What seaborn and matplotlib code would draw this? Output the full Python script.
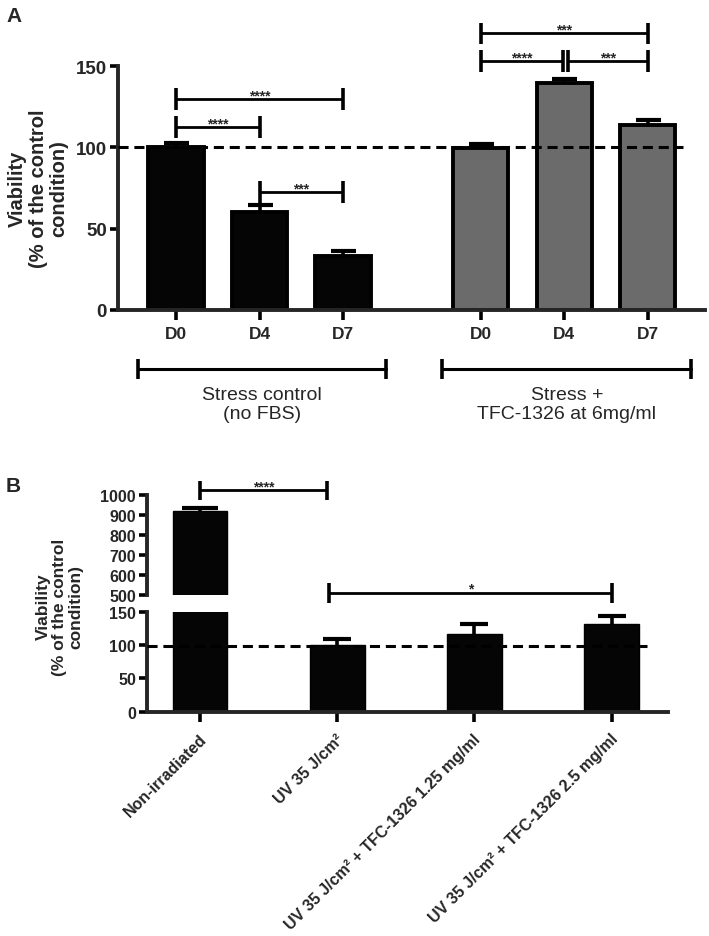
import numpy as np
import pandas as pd
import matplotlib
matplotlib.use("Agg")
import matplotlib.pyplot as plt
import matplotlib.transforms as mtransforms
import seaborn as sns

# ---------------- data ----------------
# Panel A
days = ["D0", "D4", "D7"]
groups = ["Stress control\n(no FBS)", "Stress +\nTFC-1326 at 6mg/ml"]
stress_control_mean = [100, 60, 33.5]
stress_control_sem = [2.5, 4.5, 2.8]
tfc_mean = [99.5, 139.5, 113.5]
tfc_sem = [2.5, 2.5, 3.0]
reference_A = 100
# significance: (group, day_i, day_j, label, bracket height)
sig_A = [(0, 0, 1, "****", 112.5), (0, 0, 2, "****", 129.7), (0, 1, 2, "***", 72.5),
         (1, 0, 2, "***", 170), (1, 0, 1, "****", 153), (1, 1, 2, "***", 153)]

# Panel B
b_labels = ["Non-irradiated", "UV 35 J/cm²", "UV 35 J/cm² + TFC-1326 1.25 mg/ml",
            "UV 35 J/cm² + TFC-1326 2.5 mg/ml"]
b_mean = [921, 100, 117, 131]
b_sem = [12, 9, 14, 13]
reference_B = 98

# ---------------- style ----------------
sns.set_style("ticks")
plt.rcParams["font.family"] = ["Liberation Sans", "DejaVu Sans"]
plt.rcParams["axes.linewidth"] = 2.8

W, H = 709, 937
fig = plt.figure(figsize=(W / 100, H / 100), dpi=100)


def rect(l, t, r, b):
    return [l / W, 1 - b / H, (r - l) / W, (b - t) / H]


BLACK = "#050505"
GRAY = "#6b6b6b"

# ---------------- Panel A ----------------
axA = fig.add_axes(rect(118, 67, 705, 311))
axA.patch.set_visible(False)
group_gap = 0.65
dfA = pd.DataFrame({
    "day": days * 2,
    "group": [groups[0]] * 3 + [groups[1]] * 3,
    "mean": stress_control_mean + tfc_mean,
    "sem": stress_control_sem + tfc_sem,
})
dfA["pos"] = [i + g * (len(days) + group_gap) for g in range(2) for i in range(len(days))]
sns.barplot(data=dfA, x="pos", y="mean", hue="group", palette=[BLACK, GRAY],
            native_scale=True, dodge=False, width=0.66, errorbar=None, saturation=1,
            edgecolor="black", linewidth=2.8, legend=False, ax=axA)


def up_errorbar(ax, x, y, e, capsize, clip=True):
    y = np.asarray(y, float)
    e = np.asarray(e, float)
    _, caps, bars = ax.errorbar(x, y, yerr=[np.zeros_like(e), e], fmt="none", ecolor="black",
                                elinewidth=2.6, capsize=capsize, capthick=3, zorder=1)
    for c in caps:
        if np.allclose(c.get_ydata(), y):
            c.set_visible(False)
        c.set_clip_on(clip)


up_errorbar(axA, dfA["pos"], dfA["mean"], dfA["sem"], 9)

xmin_A, xmax_A = dfA["pos"].min() - 0.695, dfA["pos"].max() + 0.685
axA.set_xlim(xmin_A, xmax_A)
axA.set_ylim(0, 150)
axA.set_yticks([0, 50, 100, 150])
axA.set_xticks(dfA["pos"])
axA.set_xticklabels(dfA["day"])
axA.set_xlabel("")
axA.set_ylabel("")
axA.hlines(reference_A, xmin_A, dfA["pos"].max() + 0.42, colors="black", lw=2.2,
           linestyles=(0, (3.3, 1.9)), zorder=5)
sns.despine(ax=axA)
axA.tick_params(axis="both", direction="out", width=2.6, color="black")
axA.tick_params(axis="x", length=7.5, pad=4, labelsize=12.5)
axA.tick_params(axis="y", length=6, pad=2, labelsize=13.5)
for lbl in axA.get_xticklabels() + axA.get_yticklabels():
    lbl.set_fontweight("bold")


def bracket(ax, x1, x2, y, h, text, fs, lw=2.0):
    ax.plot([x1, x2], [y, y], color="black", lw=lw, clip_on=False, solid_capstyle="butt", zorder=6)
    for xx in (x1, x2):
        ax.plot([xx, xx], [y - h, y + h], color="black", lw=lw + 0.6, clip_on=False,
                solid_capstyle="butt", zorder=6)
    ax.text((x1 + x2) / 2, y + 0.0, text, ha="center", va="baseline", fontsize=fs,
            fontweight="bold", clip_on=False)


posA = dfA["pos"].to_numpy().reshape(2, 3)
for g, i, j, lab, yv in sig_A:
    x1, x2 = posA[g, i], posA[g, j]
    if g == 1 and (i, j) == (0, 1):
        x2 -= 0.02
    if g == 1 and (i, j) == (1, 2):
        x1 += 0.04
    bracket(axA, x1, x2, yv, 6.6, lab, 10)

# group brackets under panel A
blendA = mtransforms.blended_transform_factory(axA.transData, fig.transFigure)
yb = 1 - 370 / H
hb = 10 / H
for g, name in enumerate(groups):
    c = posA[g].mean() + 0.03
    xl, xr = c - 1.49, c + 1.49
    axA.plot([xl, xr], [yb, yb], color="black", lw=2.2, transform=blendA, clip_on=False)
    for xx in (xl, xr):
        axA.plot([xx, xx], [yb - hb, yb + hb], color="black", lw=2.6, transform=blendA,
                 clip_on=False, solid_capstyle="butt")
    axA.text(c, 1 - 405 / H, name, transform=blendA, ha="center", va="center",
             fontsize=14, linespacing=1.15, clip_on=False)

fig.text(38 / W, 1 - 189 / H, "Viability\n(% of the control\ncondition)", rotation=90,
         ha="center", va="center", fontsize=14.5, fontweight="bold", linespacing=1.1)
fig.text(14 / W, 1 - 16 / H, "A", ha="center", va="center", fontsize=15, fontweight="bold")

# ---------------- Panel B ----------------
axBt = fig.add_axes(rect(147, 496, 668, 596))
axBb = fig.add_axes(rect(147, 612.7, 668, 712.7))
dfB = pd.DataFrame({"cond": b_labels, "mean": b_mean, "sem": b_sem})
xB = np.arange(len(b_labels))
for ax in (axBt, axBb):
    ax.patch.set_visible(False)
    sns.barplot(data=dfB, x="cond", y="mean", color=BLACK, width=0.40, errorbar=None,
                saturation=1, edgecolor="black", linewidth=1.0, ax=ax)
    ax.set_xlim(-0.386, 3.41)
    ax.set_xlabel("")
    ax.set_ylabel("")
    ax.tick_params(axis="both", direction="out", width=2.6, color="black")
    ax.tick_params(axis="y", length=6, pad=2, labelsize=11.5)
up_errorbar(axBt, xB, dfB["mean"], dfB["sem"], 13)
up_errorbar(axBb, xB, dfB["mean"], dfB["sem"], 10)

axBt.set_ylim(500, 1000)
axBt.set_yticks(np.arange(500, 1001, 100))
axBt.set_xticks([])
sns.despine(ax=axBt, bottom=True)
axBb.set_ylim(0, 150)
axBb.set_yticks([0, 50, 100, 150])
sns.despine(ax=axBb)
axBb.tick_params(axis="x", length=7.5, pad=10, labelsize=11.5)
axBb.set_xticks(xB)
axBb.set_xticklabels(b_labels, rotation=45, ha="right", va="center", rotation_mode="anchor")
off = mtransforms.ScaledTranslation(4 / 100, 0, fig.dpi_scale_trans)
for lbl in axBb.get_xticklabels():
    lbl.set_transform(lbl.get_transform() + off)
for ax in (axBt, axBb):
    for lbl in ax.get_xticklabels() + ax.get_yticklabels():
        lbl.set_fontweight("bold")

axBb.hlines(reference_B, -0.386, 3.26, colors="black", lw=2.2,
            linestyles=(0, (3.3, 1.9)), zorder=5)

# significance B
bracket(axBt, 0, 0.925, 1025, 47.5, "****", 10)
bracket(axBb, 0.943, 3.0, 178.3, 14.7, "*", 10)

fig.text(60 / W, 1 - 607 / H, "Viability\n(% of the control\ncondition)", rotation=90,
         ha="center", va="center", fontsize=12.5, fontweight="bold", linespacing=1.1)
fig.text(13 / W, 1 - 487 / H, "B", ha="center", va="center", fontsize=15, fontweight="bold")

fig.savefig("out.png", dpi=100)
